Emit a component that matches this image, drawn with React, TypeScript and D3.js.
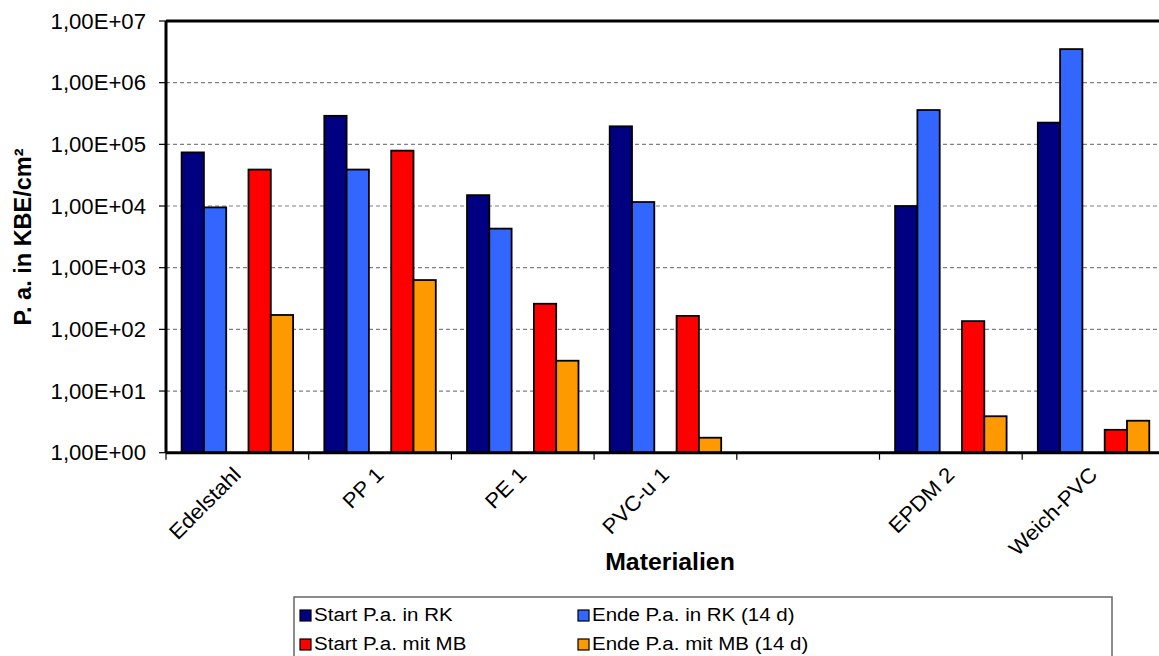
import React from "react";
import * as d3 from "d3";

// Materials on the x axis (one empty slot between PVC-u 1 and EPDM 2)
const categories = ["Edelstahl", "PP 1", "PE 1", "PVC-u 1", "", "EPDM 2", "Weich-PVC"];

// P. a. in KBE/cm² per material
const startRK: (number | null)[] = [7.4e4, 2.9e5, 1.5e4, 1.96e5, null, 1.0e4, 2.25e5];
const endRK: (number | null)[] = [9.5e3, 3.9e4, 4.3e3, 1.16e4, null, 3.6e5, 3.5e6];
const startMB: (number | null)[] = [3.9e4, 7.9e4, 260, 165, null, 136, 2.35];
const endMB: (number | null)[] = [171, 630, 31, 1.75, null, 3.9, 3.3];

const seriesNames = [
  "Start P.a. in RK",
  "Ende P.a. in RK (14 d)",
  "Start P.a. mit MB",
  "Ende P.a. mit MB (14 d)",
];
const seriesColors = ["#000080", "#3366FF", "#FF0000", "#FF9900"];

const tickValues = [1, 10, 100, 1e3, 1e4, 1e5, 1e6, 1e7];
const tickLabels = [
  "1,00E+00",
  "1,00E+01",
  "1,00E+02",
  "1,00E+03",
  "1,00E+04",
  "1,00E+05",
  "1,00E+06",
  "1,00E+07",
];

const W = 1159;
const H = 656;
const FONT = "'Liberation Sans', Arial, sans-serif";

export default function App() {
  const left = 166;
  const top = 21;
  const bottom = 452.7;
  const step = 142.7;
  const right = left + step * categories.length;

  const x = d3
    .scaleBand<string>()
    .domain(categories.map((_, i) => String(i)))
    .range([left, right])
    .padding(0);

  // five slots per material: two RK bars, an empty slot, two MB bars
  const slotKeys = ["s0", "s1", "gap", "s2", "s3"];
  const slot = d3
    .scaleBand<string>()
    .domain(slotKeys)
    .range([0, x.bandwidth()])
    .paddingInner(0)
    .paddingOuter(0.7);

  const y = d3.scaleLog().domain([1, 1e7]).range([bottom, top]);

  const series = [startRK, endRK, startMB, endMB];
  const slotOf = ["s0", "s1", "s2", "s3"];

  const bars: React.ReactNode[] = [];
  series.forEach((vals, si) => {
    vals.forEach((v, ci) => {
      if (v == null) return;
      const bx = (x(String(ci)) as number) + (slot(slotOf[si]) as number);
      const by = y(v);
      bars.push(
        <rect
          key={`b${si}-${ci}`}
          x={bx}
          y={by}
          width={slot.bandwidth()}
          height={bottom - by}
          fill={seriesColors[si]}
          stroke="#000"
          strokeWidth={1.8}
        />
      );
    });
  });

  const boundaries = d3.range(categories.length + 1).map((i) => left + i * step);

  return (
    <svg
      width={W}
      height={H}
      style={{ position: "absolute", left: 0, top: 0, display: "block", background: "#fff" }}
      fontFamily={FONT}
    >
      <rect x={0} y={0} width={W} height={H} fill="#fff" />

      {/* gridlines */}
      {tickValues.slice(1, -1).map((t) => (
        <line
          key={`g${t}`}
          x1={left}
          x2={right}
          y1={y(t)}
          y2={y(t)}
          stroke="#808080"
          strokeWidth={1.2}
          strokeDasharray="4,3"
        />
      ))}

      {bars}

      {/* plot frame */}
      <line x1={left} x2={right} y1={top} y2={top} stroke="#000" strokeWidth={3} />
      <line x1={left} x2={left} y1={top} y2={bottom} stroke="#000" strokeWidth={3} />
      <line x1={left} x2={right} y1={bottom} y2={bottom} stroke="#000" strokeWidth={3} />

      {/* y ticks and labels */}
      {tickValues.map((t, i) => (
        <g key={`yt${t}`}>
          <line x1={159} x2={left} y1={y(t)} y2={y(t)} stroke="#000" strokeWidth={1.2} />
          <text
            x={146}
            y={y(t)}
            dy="0.36em"
            textAnchor="end"
            fontSize={21.5}
            fill="#000"
            transform={`translate(146,0) scale(1.03,1) translate(-146,0)`}
          >
            {tickLabels[i]}
          </text>
        </g>
      ))}

      {/* x ticks */}
      {boundaries.map((bx, i) => (
        <line key={`xt${i}`} x1={bx} x2={bx} y1={bottom} y2={bottom + 7} stroke="#000" strokeWidth={1.2} />
      ))}

      {/* x labels */}
      {categories.map((c, i) => {
        if (!c) return null;
        const cx = (x(String(i)) as number) + x.bandwidth() / 2;
        return (
          <text
            key={`xl${i}`}
            transform={`translate(${cx + 5},${476}) rotate(-45) scale(1.06,1)`}
            textAnchor="end"
            fontSize={21}
            fill="#000"
          >
            {c}
          </text>
        );
      })}

      {/* axis titles */}
      <text
        transform={`translate(31,237) rotate(-90)`}
        textAnchor="middle"
        fontSize={23.5}
        fontWeight="bold"
        fill="#000"
      >
        P. a. in KBE/cm²
      </text>
      <text
        transform={`translate(670,570) scale(1.08,1)`}
        textAnchor="middle"
        fontSize={23}
        fontWeight="bold"
        fill="#000"
      >
        Materialien
      </text>

      {/* legend */}
      <rect x={294} y={597} width={818} height={90} fill="#fff" stroke="#666" strokeWidth={1.5} />
      {seriesNames.map((name, i) => {
        const col = i % 2;
        const row = Math.floor(i / 2);
        const lx = col === 0 ? 300 : 578;
        const ly = 610 + row * 29;
        return (
          <g key={`lg${i}`}>
            <rect x={lx} y={ly} width={11} height={11} fill={seriesColors[i]} stroke="#000" strokeWidth={1.2} />
            <text
              x={0}
              y={0}
              fontSize={19}
              fill="#000"
              transform={`translate(${lx + 14},${ly + 11}) scale(1.08,1)`}
            >
              {name}
            </text>
          </g>
        );
      })}
    </svg>
  );
}
